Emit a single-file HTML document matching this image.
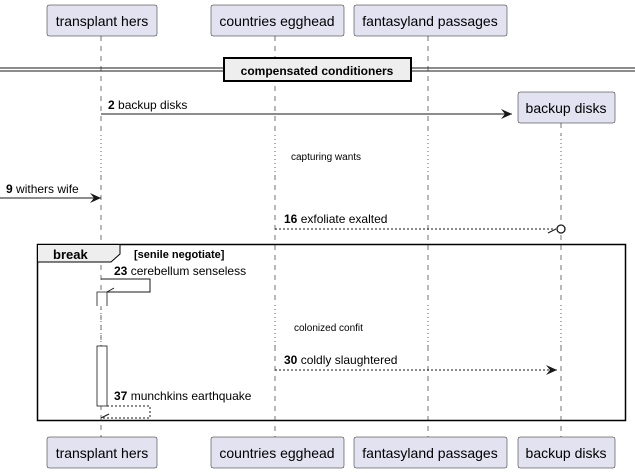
<!DOCTYPE html>
<html><head><style>
body{margin:0;background:#fff}
svg{display:block;font-family:"Liberation Sans",sans-serif}
</style></head><body>
<svg width="635" height="473" viewBox="0 0 635 473" xmlns="http://www.w3.org/2000/svg">
<defs>
<marker id="ah" markerWidth="12" markerHeight="10" refX="11" refY="5" orient="auto" markerUnits="userSpaceOnUse">
<path d="M0,0 L11,5 L0,10 L4,5 Z" fill="#181818"/></marker>
</defs>
<g stroke="#181818" stroke-width="0.6" stroke-dasharray="5,5">
<line x1="101" y1="36" x2="101" y2="135"/><line x1="101" y1="175" x2="101" y2="437"/>
<line x1="275" y1="36" x2="275" y2="135"/><line x1="275" y1="175" x2="275" y2="305"/><line x1="275" y1="346" x2="275" y2="437"/>
<line x1="428" y1="36" x2="428" y2="135"/><line x1="428" y1="175" x2="428" y2="305"/><line x1="428" y1="346" x2="428" y2="437"/>
<line x1="561" y1="123" x2="561" y2="135"/><line x1="561" y1="175" x2="561" y2="305"/><line x1="561" y1="346" x2="561" y2="437"/>
</g>
<g stroke="#a80036" stroke-width="0.8" stroke-dasharray="1,3">
<line x1="101" y1="135" x2="101" y2="175"/><line x1="275" y1="135" x2="275" y2="175"/><line x1="428" y1="135" x2="428" y2="175"/><line x1="561" y1="135" x2="561" y2="175"/>
<line x1="101" y1="305" x2="101" y2="346"/><line x1="275" y1="305" x2="275" y2="346"/><line x1="428" y1="305" x2="428" y2="346"/><line x1="561" y1="305" x2="561" y2="346"/>
</g>
<g fill="#e2e2f0" stroke="#181818" stroke-width="0.5">
<rect x="47" y="5" width="110" height="31" rx="2"/><rect x="211" y="5" width="133" height="31" rx="2"/><rect x="354" y="5" width="153" height="31" rx="2"/>
<rect x="518" y="92" width="97" height="31" rx="2"/>
<rect x="47" y="437" width="110" height="31" rx="2"/><rect x="211" y="437" width="133" height="31" rx="2"/><rect x="354" y="437" width="153" height="31" rx="2"/><rect x="518" y="437" width="97" height="31" rx="2"/>
</g>
<g font-size="14" fill="#000" text-anchor="middle">
<text x="102" y="26">transplant hers</text><text x="277" y="26">countries egghead</text><text x="430" y="26">fantasyland passages</text>
<text x="566" y="113">backup disks</text>
<text x="102" y="458">transplant hers</text><text x="277" y="458">countries egghead</text><text x="430" y="458">fantasyland passages</text><text x="566" y="458">backup disks</text>
</g>
<line x1="0" y1="68" x2="635" y2="68" stroke="#181818"/><line x1="0" y1="71" x2="635" y2="71" stroke="#181818"/>
<rect x="224" y="58" width="187" height="23" fill="#eee" stroke="#000" stroke-width="2"/>
<text x="317" y="75" text-anchor="middle" font-size="12" font-weight="bold">compensated conditioners</text>
<line x1="101" y1="114" x2="512" y2="114" stroke="#181818" marker-end="url(#ah)"/>
<text x="108" y="109" font-size="12"><tspan font-weight="bold">2</tspan> backup disks</text>
<text x="291" y="160" font-size="10">capturing wants</text>
<line x1="0" y1="198" x2="101" y2="198" stroke="#181818" marker-end="url(#ah)"/>
<text x="6" y="193" font-size="12"><tspan font-weight="bold">9</tspan> withers wife</text>
<line x1="275" y1="229" x2="556" y2="229" stroke="#181818" stroke-dasharray="2,2"/>
<line x1="548" y1="233" x2="556" y2="229" stroke="#181818"/>
<circle cx="561" cy="229" r="4" fill="#fff" stroke="#181818" stroke-width="1.3"/>
<text x="284" y="223" font-size="12"><tspan font-weight="bold">16</tspan> exfoliate exalted</text>
<rect x="37.5" y="244.5" width="588" height="176" fill="none" stroke="#000" stroke-width="1.5"/>
<path d="M37.5,244.5 H120 V254 L111,262 H37.5 Z" fill="#eee" stroke="#000" stroke-width="1"/>
<text x="53" y="259" font-size="13" font-weight="bold">break</text>
<text x="134" y="258" font-size="11" font-weight="bold">[senile negotiate]</text>
<rect x="97" y="292" width="10" height="14" fill="#fff" stroke="none"/>
<path d="M97,306 V292 H107 V306" fill="none" stroke="#181818" stroke-width="0.8"/>
<rect x="97" y="346" width="10" height="60" fill="#fff" stroke="#181818" stroke-width="0.8"/>
<path d="M101,279 H150 V292 H107" fill="none" stroke="#181818"/>
<line x1="107" y1="292" x2="114" y2="288" stroke="#181818"/>
<text x="114" y="275" font-size="12"><tspan font-weight="bold">23</tspan> cerebellum senseless</text>
<text x="294" y="331" font-size="10">colonized confit</text>
<line x1="275" y1="370" x2="557" y2="370" stroke="#181818" stroke-dasharray="2,2" marker-end="url(#ah)"/>
<text x="284" y="364" font-size="12"><tspan font-weight="bold">30</tspan> coldly slaughtered</text>
<path d="M107,406 H150 V418 H101" fill="none" stroke="#181818" stroke-dasharray="2,2"/>
<line x1="101" y1="418" x2="109" y2="414" stroke="#181818"/>
<text x="114" y="400" font-size="12"><tspan font-weight="bold">37</tspan> munchkins earthquake</text>
</svg>
</body></html>
